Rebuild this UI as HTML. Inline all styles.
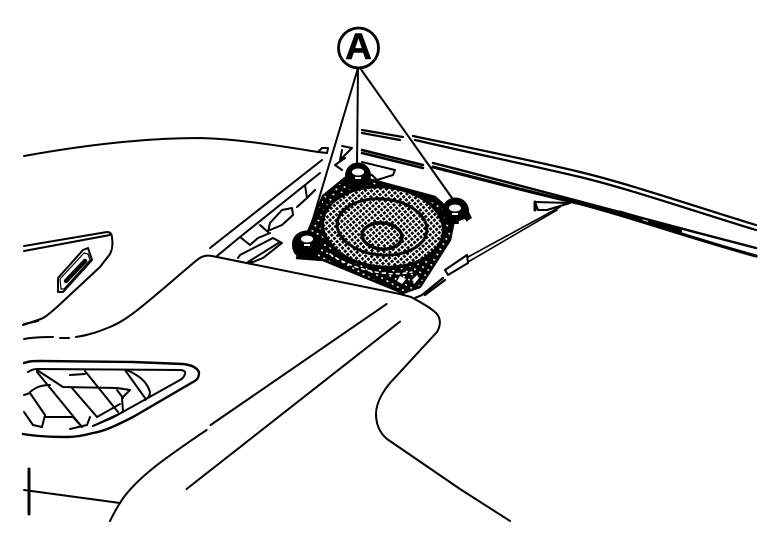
<!DOCTYPE html>
<html><head><meta charset="utf-8"><style>
html,body{margin:0;padding:0;background:#fff;width:768px;height:544px;overflow:hidden}
svg{display:block}
text{font-family:"Liberation Sans",sans-serif;font-weight:bold}
</style></head><body>
<svg width="768" height="544" viewBox="0 0 768 544" xmlns="http://www.w3.org/2000/svg" fill="none" stroke="#000" stroke-width="2" stroke-linecap="round" stroke-linejoin="round">
<defs>
<pattern id="h" width="4.2" height="4.2" patternUnits="userSpaceOnUse" patternTransform="rotate(45)">
<rect width="4.2" height="4.2" fill="#fff" stroke="none"/>
<rect width="2.800" height="2.800" fill="#000" stroke="none"/>
</pattern>
<pattern id="d" width="6" height="6" patternUnits="userSpaceOnUse" patternTransform="rotate(30)">
<rect width="6" height="6" fill="#000" stroke="none"/>
<rect x="1" y="1" width="2" height="1.500" fill="#fff" stroke="none"/>
</pattern>
</defs>

<!-- windshield / dash lines -->
<path d="M24 156C90 144 150 138 200 138C240 139 280 146 318 152L322 148L328 148L327 153L318 152"/>
<path d="M413 136C480 150 530 160 580 172S700 208 756 225" stroke-width="2.2"/>
<path d="M415 140C480 155 530 165 580 177S700 213 756 230" stroke-width="2.2"/>
<path d="M433 163C480 175 530 188 567 198S690 231 756 248" stroke-width="2.400"/>
<path d="M433 167C480 179 530 192 573 202S690 238 756 256" stroke-width="3.2"/>
<path d="M362 130L403 137M362 133L400 140" stroke-width="2.200"/>
<path d="M362 150L423 165M362 153L423 168" stroke-width="2.600"/>
<path d="M362 162L395 170L393 175L377 180L372 175L362 172"/>
<path d="M620 213L640 219" stroke-width="5"/>
<path d="M650 222L680 231" stroke-width="4"/>

<!-- left inner structure -->
<path d="M210 248L322 160"/>
<path d="M217 256L240 237L320 173"/>
<path d="M240 237L250 245L258 238L270 233M260 225L268 232L270 223L282 210L292 208L293 215L282 225L270 230M305 185L307 198L315 190M307 198L297 207"/>
<path d="M238 258L240 255L273 238L282 243L263 258L253 262L248 262L280 242"/>
<path d="M342 150L340 160L352 148L342 146M342 170L335 165L345 158"/>

<!-- right tab -->
<path d="M535 202L538 210L547 210L570 203L535 202"/>
<path d="M535 202L535 210" stroke-width="3"/>
<path d="M560 207L468 257M557 210L468 262" stroke-width="1.6"/>
<path d="M467 255L445 270L448 275L468 263L467 255" fill="#fff"/>
<path d="M443 278L422 295L415 298M445 280L425 295" stroke-width="2.200"/>

<!-- speaker base -->
<path d="M297 258L323 196L345 178L372 180L435 197L455 215L450 240L420 287L403 293L323 260Z" fill="url(#d)" stroke-width="2.500"/>
<ellipse cx="383" cy="227" rx="63" ry="42" transform="rotate(5 383 227)" fill="#000" stroke="none"/>
<ellipse cx="383" cy="227" rx="59" ry="38.500" transform="rotate(5 383 227)" fill="url(#h)" stroke="none"/>
<ellipse cx="382" cy="227" rx="45" ry="28" transform="rotate(5 382 227)" stroke-width="3"/>
<ellipse cx="382" cy="236" rx="20" ry="13" transform="rotate(5 382 236)" stroke-width="3.5"/>
<path d="M330 254C350 268 385 278 412 272" stroke="#fff" stroke-width="1.500" stroke-dasharray="3 4"/>
<path d="M400 276l6 3-4 5-5-3ZM412 280l5-5 2 3-4 5Z" fill="#fff" stroke="none"/>

<!-- bolts -->
<g stroke="none">
<path d="M345 176a13 13 0 1 1 26 -1q0 9 -9 13h-11q-6 -4 -6 -12Z" fill="#000"/>
<ellipse cx="358" cy="172" rx="6" ry="3.500" fill="#fff"/>
<rect x="355" y="177" width="6" height="2" fill="#fff"/>
<path d="M292 245a14 13 0 1 1 29 -2q0 10 -9 15h-13q-7 -5 -7 -13Z" fill="#000"/>
<ellipse cx="307" cy="239" rx="6" ry="3.500" fill="#fff"/>
<rect x="304" y="244" width="6" height="2" fill="#fff"/>
<path d="M442 210a13 13 0 1 1 27 2l3 6-9 6h-10q-11 -5 -11 -14Z" fill="#000"/>
<ellipse cx="455" cy="208" rx="6" ry="3.500" fill="#fff"/>
<rect x="452" y="213" width="6" height="2" fill="#fff"/>
<path d="M459 221l6 -2 2 4-4 1-1 5-4 0Z" fill="#fff"/>
</g>

<!-- leaders -->
<path d="M358 68L309 232"/>
<path d="M358 68L357 165" stroke-width="2"/>
<path d="M360 68L452 198"/>
<circle cx="358.5" cy="48" r="20" stroke-width="2.8" fill="#fff"/>
<text x="358.5" y="59" text-anchor="middle" font-size="37" fill="#000" stroke="#000" stroke-width="0.6">A</text>

<!-- main panel -->
<path d="M24 339C35 337 45 337 53 337"/>
<path d="M60 338L69 338"/>
<path d="M76 337C90 335 100 331 110 327C122 322 131 315 140 308C160 292 180 274 197 260C202 256 206 255 212 256L400 294L411 297C420 302 430 307 436 313C441 318 441 325 437 332L390 383C381 394 376 405 376 414C376 425 380 433 387 439L460 489L510 521"/>
<path d="M386.600 304L210.600 425"/>
<path d="M206.600 430C170 455 135 478 120 503C116 509 113 515 110 521"/>
<path d="M400 321.600L186.600 489"/>
<path d="M24 490L120 503"/>
<path d="M29 469L29 514" stroke-width="3"/>

<!-- upper left shape -->
<path d="M24 246L107 232C111 232 112 235 112 238C113 244 112 250 110 254L100 267L57 307C50 313 45 318 38 320L23 325"/>
<path d="M24 251L110 235M24 324L38 321"/>
<path d="M58 278L83 250L88 248L92 260L63 292L58 292Z"/>
<path d="M60 279L84 253L88 254L90 260L64 289L61 289Z" stroke-width="1.2"/>
<path d="M66 281L85 261" stroke-width="4.500"/>

<!-- vent -->
<path d="M24 363C30 361 33 361 40 361L133 362L183 364C192 365 197 368 199 372C199 378 197 380 193 382L133 417C115 426 105 431 93 433C82 436 75 437 67 437C50 437 35 436 23 434" stroke-width="2.400"/>
<path d="M28 372C31 370 34 369 37 369L180 370C184 370 186 372 185 374C184 377 182 379 180 380L112 418L93 426"/>
<path d="M37 370L63 387L117 388L130 390L122 398L123 412"/>
<path d="M37 372L82 427"/>
<path d="M72 388L97 417"/>
<path d="M85 371L118 412"/>
<path d="M70 375L85 374"/>
<path d="M125 370L145 398"/>
<path d="M127 370C140 376 147 382 150 392C150 396 148 398 145 400"/>
<path d="M117 390L123 398M97 417L120 404"/>
<path d="M90 417L87 425L70 429"/>
<path d="M24 395L30 393L45 415L42 427L33 425L24 412"/>
<path d="M30 392C35 388 40 385 50 385"/>
<path d="M45 417L73 417L82 427"/>
<path d="M93 426L123 412"/>
</svg>
</body></html>
